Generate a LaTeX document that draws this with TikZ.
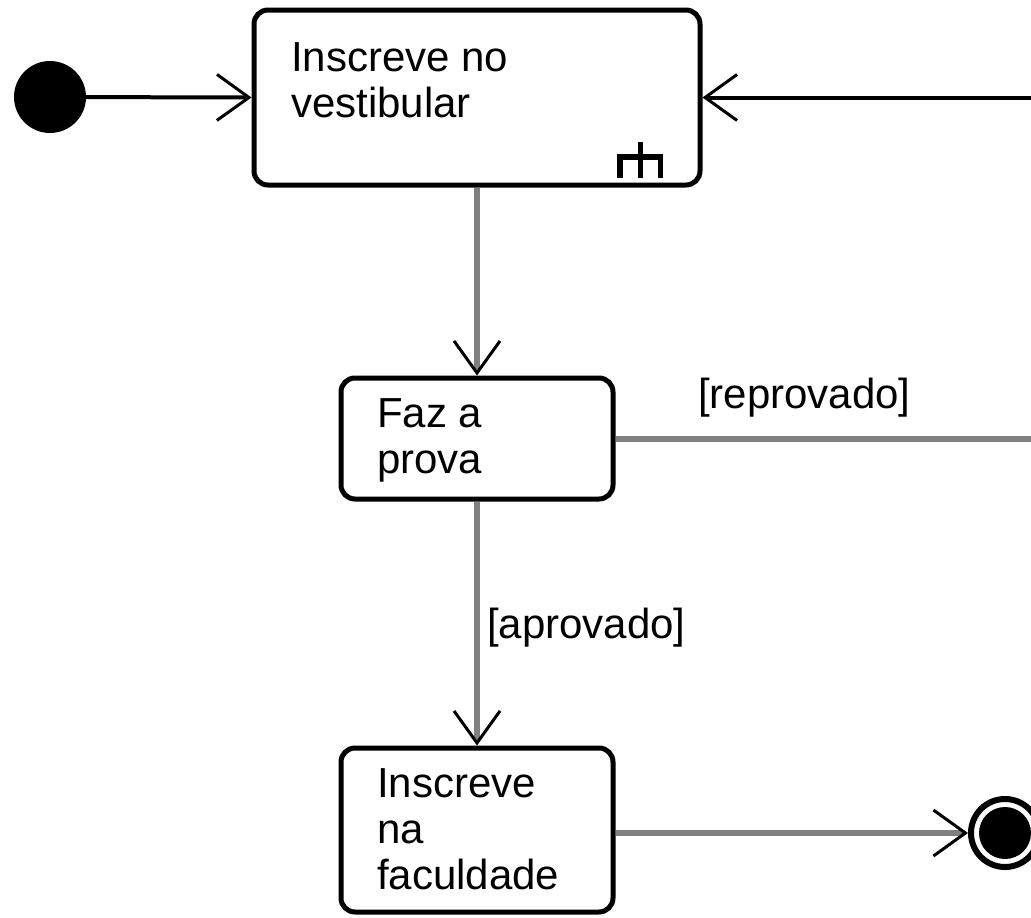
\documentclass[tikz,border=0pt]{standalone}
\usepackage{fontspec}
\setmainfont{Liberation Sans}
\usetikzlibrary{arrows.meta}
\definecolor{edgegray}{HTML}{808080}
\begin{document}
\begin{tikzpicture}[x=1pt,y=-1pt,
  action/.style={draw=black, line width=5pt, rounded corners=14pt, rectangle, inner sep=0pt},
  actext/.style={anchor=north west, inner sep=0pt, align=left, font=\fontsize{42}{46}\selectfont},
  guard/.style={anchor=base west, inner sep=0pt, font=\fontsize{42}{46}\selectfont},
  barb/.style={-{Straight Barb[length=32pt, width=46pt, line width=3pt 0, color=black]}},
  flowblack/.style={draw=black, line width=4pt, barb},
  flowgray/.style={draw=edgegray, line width=6pt},
]
\useasboundingbox (0,0) rectangle (1031,918);
\begin{scope}
\clip (0,0) rectangle (1031,918);

% action states
\node[action, minimum width=446pt, minimum height=175pt] (insc) at (477,97.5) {};
\node[action, minimum width=272pt, minimum height=121pt] (prova) at (477,438.5) {};
\node[action, minimum width=272pt, minimum height=164pt] (facul) at (477,830) {};

\node[actext] (insctext) at (291,42) {Inscreve no\\vestibular};
\node[actext] (provatext) at (377,398) {Faz a\\prova};
\node[actext] (facultext) at (377,768) {Inscreve\\na\\faculdade};

% sub-activity (rake) icon
\fill (617,155) rectangle (622.5,178);
\fill (657.5,155) rectangle (663,178);
\fill (637.5,142) rectangle (642.5,178);
\fill (617,154) rectangle (663,159.5);

% initial and final states
\node[circle, fill=black, inner sep=0pt, minimum size=72pt] (start) at (50,97) {};
\node[circle, draw=black, line width=6pt, fill=white, inner sep=0pt, minimum size=68pt] (stop) at (1005,833) {};
\node[circle, fill=black, inner sep=0pt, minimum size=52pt] (stopdot) at (stop.center) {};

% free ends of the loop beyond the right border
\coordinate (loopout) at (1045,439);
\coordinate (loopin) at (1045,97.5);

% transitions
\draw[flowblack] (start) -- (insc.west);
\draw[flowblack] (loopin) -- (insc.east);
\draw[flowgray, barb] (insc.south) -- (prova.north);
\draw[flowgray, barb] (prova.south) -- (facul.north);
\draw[flowgray] (prova.east) -- (prova.east -| loopout);
\draw[flowgray, barb] (facul.east |- stop.west) -- (stop.west);

% guards
\node[guard] (reprov) at (698,408) {[reprovado]};
\node[guard] (aprov) at (487,638) {[aprovado]};
\end{scope}
\end{tikzpicture}
\end{document}
